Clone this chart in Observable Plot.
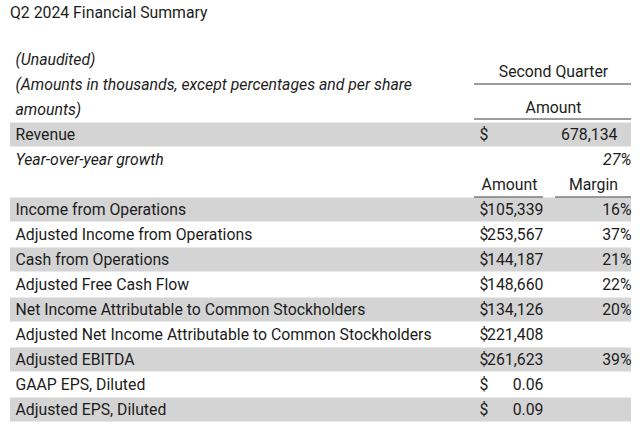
<!DOCTYPE html>
<html><head><meta charset="utf-8">
<script src="https://cdn.jsdelivr.net/npm/d3@7"></script>
<script src="https://cdn.jsdelivr.net/npm/@observablehq/plot@0.6"></script>
<style>
body{margin:0;background:#fff;font-family:Roboto,"Liberation Sans",sans-serif;color:#1c1c1c;}
#title{height:28px;line-height:26px;font-size:15.8px;padding-left:10px;}
</style></head><body>
<div id="title">Q2 2024 Financial Summary</div>
<div id="chart"></div>
<script>
// ---- data ----
const metrics = [
  "Income from Operations",
  "Adjusted Income from Operations",
  "Cash from Operations",
  "Adjusted Free Cash Flow",
  "Net Income Attributable to Common Stockholders",
  "Adjusted Net Income Attributable to Common Stockholders",
  "Adjusted EBITDA",
  "GAAP EPS, Diluted",
  "Adjusted EPS, Diluted"
];
const amounts = [105339, 253567, 144187, 148660, 134126, 221408, 261623, 0.06, 0.09];
const margins = [16, 37, 21, 22, 20, null, 39, null, null];
const revenue = 678134;
const yoyGrowth = 27;
const headerNotes = ["(Unaudited)", "(Amounts in thousands, except percentages and per share", "amounts)"];
const periodLabel = "Second Quarter";
const columnLabels = ["Amount", "Margin"];

// ---- layout (table columns, in px across the 640px page) ----
const col = {left: 10, right: 631, label: 15, dollar: 479, amountEnd: 543, revenueEnd: 617,
             groupStart: 474, marginStart: 555, subAmountMid: 509, marginMid: 593, periodMid: 553};
const ink = "#1c1c1c", shade = "#d4d4d4", lineColor = "#3a3a3a";
const fs = 15.8;

const fmt = v => v < 1 ? d3.format(".2f")(v) : d3.format(",")(v);
const rowsOrder = ["h1", "h2", "h3", "revenue", "yoy", "sub", ...metrics];
const metricRows = metrics.map((name, i) => ({name, amount: amounts[i], margin: margins[i]}));
const shaded = ["revenue", ...metrics.filter((d, i) => i % 2 === 0)];
const headerRows = headerNotes.map((t, i) => ({row: rowsOrder[i], text: t}));
const c = v => () => v;

const chart = Plot.plot({
  width: 640, height: 400,
  marginLeft: 0, marginRight: 0, marginTop: 18.5, marginBottom: 6.5,
  x: {domain: [0, 640], range: [0, 640], axis: null},
  y: {domain: rowsOrder, type: "band", padding: 0, axis: null},
  style: {fontFamily: "Roboto, 'Liberation Sans', sans-serif", fontSize: fs + "px", color: ink, background: "#fff"},
  marks: [
    Plot.barX(shaded, {x1: c(col.left), x2: c(col.right), y: d => d, fill: shade, insetTop: 0.5, insetBottom: 0.5}),
    // header notes
    Plot.text(headerRows, {x: c(col.label), y: "row", text: "text", textAnchor: "start", fontStyle: "italic", fontSize: fs, fill: ink}),
    Plot.text([periodLabel], {x: c(col.periodMid), y: c("h2"), text: d => d, dy: -13, fontSize: fs, fill: ink}),
    Plot.ruleY(["h2"], {y: d => d, x1: c(col.groupStart), x2: c(col.right), dy: -1, stroke: lineColor}),
    Plot.text([columnLabels[0]], {x: c(col.periodMid), y: c("h3"), text: d => d, dy: -2, fontSize: fs, fill: ink}),
    Plot.ruleY(["h3"], {y: d => d, x1: c(col.groupStart), x2: c(col.right), dy: 9, stroke: lineColor}),
    // revenue
    Plot.text(["Revenue"], {x: c(col.label), y: c("revenue"), text: d => d, textAnchor: "start", fontSize: fs, fill: ink}),
    Plot.text(["$"], {x: c(col.dollar), y: c("revenue"), text: d => d, textAnchor: "start", fontSize: fs, fill: ink}),
    Plot.text([revenue], {x: c(col.revenueEnd), y: c("revenue"), text: d => fmt(d), textAnchor: "end", fontSize: fs, fill: ink}),
    // yoy
    Plot.text(["Year-over-year growth"], {x: c(col.label), y: c("yoy"), text: d => d, textAnchor: "start", fontStyle: "italic", fontSize: fs, fill: ink}),
    Plot.text([yoyGrowth], {x: c(col.right), y: c("yoy"), text: d => `${d}%`, textAnchor: "end", fontStyle: "italic", fontSize: fs, fill: ink}),
    // sub header
    Plot.text([columnLabels[0]], {x: c(col.subAmountMid), y: c("sub"), text: d => d, fontSize: fs, fill: ink}),
    Plot.text([columnLabels[1]], {x: c(col.marginMid), y: c("sub"), text: d => d, fontSize: fs, fill: ink}),
    Plot.ruleY(["sub"], {y: d => d, x1: c(col.groupStart), x2: c(col.amountEnd), dy: 12, stroke: lineColor}),
    Plot.ruleY(["sub"], {y: d => d, x1: c(col.marginStart), x2: c(col.right), dy: 12, stroke: lineColor}),
    // metrics
    Plot.text(metricRows, {x: c(col.label), y: "name", text: "name", textAnchor: "start", fontSize: fs, fill: ink}),
    Plot.text(metricRows, {x: c(col.dollar), y: "name", text: () => "$", textAnchor: "start", fontSize: fs, fill: ink}),
    Plot.text(metricRows, {x: c(col.amountEnd), y: "name", text: d => fmt(d.amount), textAnchor: "end", fontSize: fs, fill: ink}),
    Plot.text(metricRows.filter(d => d.margin != null), {x: c(col.right), y: "name", text: d => `${d.margin}%`, textAnchor: "end", fontSize: fs, fill: ink})
  ]
});
document.getElementById("chart").append(chart);
</script></body></html>
